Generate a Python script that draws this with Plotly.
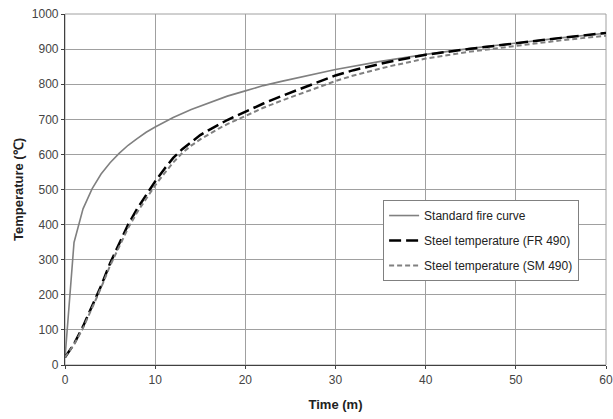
import plotly.graph_objects as go

# Time (minutes)
t_std = [0, 1, 2, 3, 4, 5, 6, 7, 8, 9, 10, 12, 14, 16, 18, 20, 22, 24, 26, 28, 30, 35, 40, 45, 50, 55, 60]
std_fire = [20, 349, 445, 502, 544, 576, 603, 626, 645, 663, 678, 705, 728, 748, 766, 781, 796, 808, 820, 831, 842, 865, 885, 902, 918, 932, 945]

t_steel = [0, 1, 2, 3, 4, 5, 6, 7, 8, 9, 10, 11, 12, 13, 14, 15, 16, 17, 18, 19, 20, 22, 24, 26, 28, 30, 32, 34, 36, 38, 40, 45, 50, 55, 60]
fr490 = [22, 60, 110, 165, 225, 290, 345, 400, 445, 485, 523, 558, 590, 615, 635, 655, 670, 685, 698, 710, 722, 745, 766, 786, 806, 825, 840, 853, 864, 874, 884, 901, 917, 932, 946]
sm490 = [22, 58, 105, 160, 220, 283, 338, 390, 435, 475, 512, 545, 577, 604, 625, 643, 659, 673, 686, 698, 710, 733, 753, 772, 790, 809, 825, 839, 851, 862, 873, 893, 910, 925, 938]

names = ["Standard fire curve", "Steel temperature (FR 490)", "Steel temperature (SM 490)"]

fig = go.Figure()
fig.add_trace(go.Scatter(x=t_std, y=std_fire, mode="lines", name=names[0], legendgroup="a",
                         line=dict(color="#808080", width=1.6)))
fig.add_trace(go.Scatter(x=t_steel, y=fr490, mode="lines", name=names[1], legendgroup="b",
                         line=dict(color="#000000", width=2.5, dash="12px,5px")))
fig.add_trace(go.Scatter(x=t_steel, y=sm490, mode="lines", name=names[2], legendgroup="c",
                         line=dict(color="#808080", width=2, dash="5px,3px")))

font_fam = "Liberation Sans, Arial, sans-serif"
fig.update_layout(
    width=613, height=419,
    margin=dict(l=65, r=7, t=14, b=54),
    paper_bgcolor="white", plot_bgcolor="white",
    font=dict(family=font_fam, size=12, color="#333333"),
    legend=dict(x=0.588, y=0.47, xanchor="left", yanchor="top",
                bordercolor="#808080", borderwidth=1, bgcolor="white",
                font=dict(size=12, color="#222222"), tracegroupgap=6,
                itemwidth=30),
    showlegend=True,
)
fig.update_xaxes(range=[0, 60], tickvals=[0, 10, 20, 30, 40, 50, 60],
                 automargin=False,
                 showgrid=True, gridcolor="#a0a0a0", gridwidth=1,
                 showline=True, linecolor="#404040", linewidth=1.2,
                 ticks="outside", ticklen=3, tickcolor="#404040",
                 tickfont=dict(size=12, color="#444444"),
                 zeroline=False, mirror=False,
                 title=dict(text="<b>Time (m)</b>", font=dict(size=13, color="#222222"), standoff=14))
fig.update_yaxes(range=[0, 1000], tickvals=list(range(0, 1001, 100)),
                 automargin=False,
                 showgrid=True, gridcolor="#a0a0a0", gridwidth=1,
                 showline=True, linecolor="#404040", linewidth=1.2,
                 ticks="outside", ticklen=3, tickcolor="#404040",
                 tickfont=dict(size=12, color="#444444"),
                 zeroline=False,
                 title=dict(text="<b>Temperature (℃)</b>", font=dict(size=13, color="#222222"), standoff=5))
fig.add_shape(type="rect", xref="paper", yref="paper", x0=0, y0=0, x1=1, y1=1,
              line=dict(color="#a0a0a0", width=1), layer="below")

fig.write_html("out.html", config={"displayModeBar": False},
               post_script="document.body.style.margin='0';document.body.style.padding='0';")
